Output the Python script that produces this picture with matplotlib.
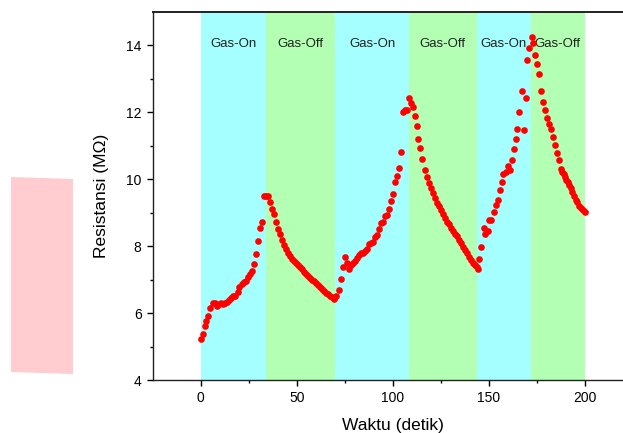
import numpy as np
import matplotlib.pyplot as plt
from matplotlib.patches import Polygon

plt.rcParams['font.family'] = ['Liberation Sans', 'DejaVu Sans']

# waktu (detik) dan resistansi (MOhm)
WAKTU = [0, 1, 2, 3, 4, 5, 6.3, 7.3, 8.4, 9.4, 10.5, 11.5, 12.6, 13.6, 14.7, 15.7, 16.8, 17.8,
         19.2, 20.2, 21.3, 22.3, 23.4, 24.4, 25.5, 26.5, 27.6, 28.8, 29.8, 30.9, 31.9, 33.0, 34.0, 35.0,
         36.1, 37.2, 38.2, 39.3, 40.3, 41.4, 42.4, 43.5, 44.5, 45.5, 46.6, 47.6, 48.7, 49.7, 50.8,
         51.8, 52.9, 53.9, 54.9, 56.0, 57.0, 58.1, 59.1, 60.2, 61.2, 62.3, 63.3, 64.4, 65.4, 66.4,
         67.5, 68.5, 69.6,
         70.7, 72.1, 73.1, 74.2, 75.2, 76.3, 77.3, 78.4, 79.4, 80.5, 81.5, 82.6, 83.6, 84.6, 85.7,
         86.7, 87.8, 88.8, 89.9, 90.9, 92.0, 93.0, 94.1, 95.1, 96.1, 97.2, 98.2, 99.0, 100.0, 101.0,
         102.1, 103.1, 104.2, 105.2, 106.3, 107.3, 108.4,
         109.4, 110.5, 111.5, 112.5, 113.4, 114.4, 115.5, 116.6, 117.6, 118.7, 119.7, 120.8, 121.8,
         122.9, 123.9, 125.0, 126.0, 127.1, 128.1, 129.1, 130.2, 131.2, 132.3, 133.3, 134.4, 135.4,
         136.5, 137.5, 138.6, 139.6, 140.7, 141.7, 142.8, 143.8, 144.5,
         145.2, 146.2, 147.3, 148.3, 149.4, 150.4, 151.4, 152.5, 153.6, 154.6, 155.7, 156.7, 157.7,
         158.8, 159.9, 160.9, 161.9, 163.0, 164.0, 164.9, 166.0, 167.2, 168.2, 169.3, 170.2, 171.2, 172.3,
         173.3, 174.3, 175.4, 176.4, 177.4, 178.5, 179.4, 180.3, 181.3, 182.4, 183.4, 184.5, 185.5,
         186.6, 187.6, 188.3, 189.0, 189.7, 190.4, 191.1, 191.8, 192.8, 193.5, 194.6, 195.3, 196.0,
         197.0, 198.1, 199.1, 200.1]
RESISTANSI = [5.22, 5.37, 5.6, 5.76, 5.91, 6.16, 6.30, 6.31, 6.22, 6.27, 6.31, 6.27, 6.29, 6.33, 6.39, 6.45, 6.52, 6.52,
              6.63, 6.79, 6.87, 6.93, 6.97, 7.09, 7.17, 7.25, 7.47, 7.77, 8.16, 8.55, 8.73, 9.51, 9.51, 9.50,
              9.31, 9.11, 8.97, 8.71, 8.51, 8.35, 8.17, 8.03, 7.91, 7.81, 7.71, 7.63, 7.55, 7.49, 7.43,
              7.37, 7.31, 7.23, 7.17, 7.11, 7.05, 6.99, 6.95, 6.89, 6.83, 6.79, 6.73, 6.67, 6.61, 6.57,
              6.51, 6.48, 6.43,
              6.51, 6.69, 7.01, 7.37, 7.67, 7.51, 7.31, 7.43, 7.51, 7.57, 7.65, 7.73, 7.79, 7.79, 7.85,
              7.91, 8.07, 8.09, 8.13, 8.27, 8.33, 8.51, 8.69, 8.73, 8.89, 8.93, 9.11, 9.35, 9.55, 9.93,
              10.09, 10.33, 10.81, 12.0, 12.06, 12.08, 12.44,
              12.28, 12.16, 11.90, 11.58, 11.21, 10.93, 10.61, 10.29, 10.07, 9.89, 9.73, 9.59, 9.43,
              9.29, 9.21, 9.07, 8.95, 8.85, 8.73, 8.65, 8.55, 8.45, 8.37, 8.29, 8.19, 8.09,
              7.99, 7.89, 7.79, 7.69, 7.59, 7.51, 7.43, 7.37, 7.31,
              7.61, 7.99, 8.55, 8.37, 8.45, 8.77, 8.77, 9.03, 9.23, 9.39, 9.69, 9.93, 10.17,
              10.23, 10.39, 10.27, 10.59, 10.91, 11.19, 11.49, 12.0, 12.64, 11.47, 12.43, 13.56, 13.92, 14.26,
              14.06, 13.70, 13.46, 13.16, 12.64, 12.30, 12.08, 11.84, 11.66, 11.49, 11.27, 11.03, 10.79,
              10.57, 10.31, 10.23, 10.15, 10.07, 9.99, 9.91, 9.83, 9.73, 9.61, 9.49, 9.39, 9.31,
              9.21, 9.13, 9.07, 9.03]

# batas periode gas
BATAS = [0, 34.2, 70.2, 108.3, 143.8, 172.0, 200]
LABEL = ['Gas-On', 'Gas-Off', 'Gas-On', 'Gas-Off', 'Gas-On', 'Gas-Off']
WARNA = ['#A6FFFF', '#B3FFB3']

fig = plt.figure(figsize=(6.23, 4.33), dpi=100)

# kotak merah muda di kiri
fig.patches.append(Polygon([[11/623, 1-177/433], [73/623, 1-179/433], [73/623, 1-374/433], [11/623, 1-372/433]],
                           closed=True, transform=fig.transFigure, facecolor='#FFCCD0', edgecolor='none'))

ax = fig.add_axes([0.2451, 0.1224, 0.7705, 0.8499])

for i in range(len(LABEL)):
    ax.axvspan(BATAS[i], BATAS[i+1], color=WARNA[i % 2], lw=0, zorder=0)
    ax.text((BATAS[i]+BATAS[i+1])/2, 14.05, LABEL[i], ha='center', va='center', fontsize=9.5, color='#222222', zorder=1)

ax.plot(WAKTU, RESISTANSI, 'o', color='red', ms=4.8, mec='none', zorder=2)

ax.set_xlim(-25, 225)
ax.set_ylim(4, 15)
ax.set_xticks([0, 50, 100, 150, 200])
ax.set_xticks([25, 75, 125, 175], minor=True)
ax.set_yticks([4, 6, 8, 10, 12, 14])
ax.set_yticks([5, 7, 9, 11, 13], minor=True)
ax.tick_params(which='major', direction='out', length=4.5, width=1, labelsize=10)
ax.tick_params(which='minor', direction='out', length=2.5, width=1)
for s in ax.spines.values():
    s.set_linewidth(1.0)
    s.set_color('#222222')
ax.spines['top'].set_linewidth(1.4)

ax.set_xlabel('Waktu (detik)', fontsize=12.5, labelpad=9)
ax.set_ylabel('Resistansi (M\u03a9)', fontsize=12.5, labelpad=12)

plt.savefig('out.png', dpi=100)
